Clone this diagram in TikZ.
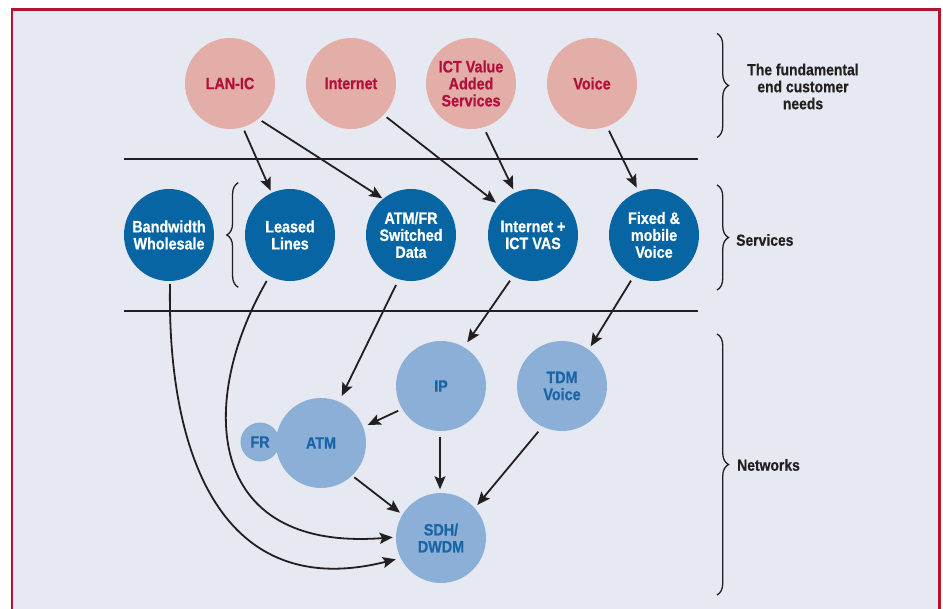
\documentclass[tikz,border=0pt]{standalone}
\usepackage{fontspec}
\setmainfont[FakeStretch=0.87, BoldFeatures={FakeBold=0.6}]{Liberation Sans}
\usetikzlibrary{shapes.geometric,arrows.meta,decorations.pathreplacing,calc}
\definecolor{bgcol}{HTML}{E6E9F1}
\definecolor{framered}{HTML}{B5142F}
\definecolor{pinkfill}{HTML}{E4AEA8}
\definecolor{pinktext}{HTML}{B30F3B}
\definecolor{darkblue}{HTML}{0765A3}
\definecolor{lightblue}{HTML}{8BAFD6}
\definecolor{nettext}{HTML}{1A64A8}
\definecolor{linecol}{HTML}{231F20}
\begin{document}
\begin{tikzpicture}[x=1pt,y=-1pt,
  lbl/.style={align=center, font=\bfseries\fontsize{16.5}{17}\selectfont, inner sep=0pt},
  need/.style={ellipse, fill=pinkfill, minimum width=90pt, minimum height=91pt, inner sep=0pt,
    label={[lbl, text=pinktext]center:{#1}}},
  svc/.style={ellipse, fill=darkblue, minimum width=90pt, minimum height=92pt, inner sep=0pt,
    label={[lbl, text=white]center:{#1}}},
  net/.style={circle, fill=lightblue, minimum size=90pt, inner sep=0pt,
    label={[lbl, text=nettext]center:{#1}}},
  side/.style={align=center, font=\bfseries\fontsize{16}{17}\selectfont, text=linecol, inner sep=0pt},
  arr/.style={draw=linecol, line width=1.8pt, -{Stealth[length=13pt,width=11pt,inset=2.5pt]}},
  sep/.style={draw=linecol, line width=2pt},
  brc/.style={draw=linecol, line width=1.3pt, decorate, decoration={brace, amplitude=11.5pt}}
]
\useasboundingbox (0,0) rectangle (943,609);
\clip (0,0) rectangle (943,609);
\fill[white] (0,0) rectangle (943,609);
\draw[framered, line width=2.5pt, fill=bgcol] (12,9.5) rectangle (939.5,650);

% separators
\draw[sep] (124,159.3) -- (698,159.3);
\draw[sep] (124,310.7) -- (698,310.7);

% fundamental needs
\node[need={LAN-IC}] (lan) at (230,83.5) {};
\node[need={Internet}] (inet) at (351,83.5) {};
\node[need={ICT Value\\Added\\Services}] (ict) at (471,83.5) {};
\node[need={Voice}] (voice) at (592,83.5) {};

% services
\node[svc={Bandwidth\\Wholesale}] (bw) at (169,235) {};
\node[svc={Leased\\Lines}] (leased) at (290,235) {};
\node[svc={ATM/FR\\Switched\\Data}] (atmfr) at (411,235) {};
\node[svc={Internet +\\ICT VAS}] (inetp) at (533,235) {};
\node[svc={Fixed \&\\mobile\\Voice}] (fixed) at (654,235) {};

% networks
\node[net={FR}, minimum size=39pt] (fr) at (260,442) {};
\node[net={ATM}] (atm) at (321,443) {};
\node[net={IP}] (ip) at (441,386) {};
\node[net={TDM\\Voice}] (tdm) at (562,386) {};
\node[net={SDH/\\DWDM}] (sdh) at (441,538) {};

% braces and side labels
\draw[brc] (717,33.5) -- (717,137.5);
\draw[brc] (717,185) -- (717,290);
\draw[brc] (717,334) -- (717,595);
\draw[brc] (238.3,287.3) -- (238.3,182.7);
\node[side] (lneeds) at (803,86.5) {The fundamental\\end customer\\needs};
\node[side, anchor=west] (lsvc) at (736,240) {Services};
\node[side, anchor=west] (lnet) at (737,465) {Networks};

% connectors
\draw[arr] ($(lan)+(14.3,47.2)$) -- ($(leased)+(-19.3,-44.3)$);
\draw[arr] ($(lan)+(31.7,37.5)$) -- ($(atmfr)+(-28.7,-36.7)$);
\draw[arr] ($(inet)+(35.7,33.8)$) -- ($(inetp)+(-37,-32.3)$);
\draw[arr] ($(ict)+(15,48.8)$) -- ($(inetp)+(-19.7,-45.7)$);
\draw[arr] ($(voice)+(17,47.2)$) -- ($(fixed)+(-17.3,-47.3)$);
\draw[arr] ($(atmfr)+(-15,50)$) -- ($(atm)+(20.7,-47)$);
\draw[arr] ($(inetp)+(-23,45.7)$) -- ($(ip)+(26.3,-43.7)$);
\draw[arr] ($(fixed)+(-23,45.7)$) -- ($(tdm)+(28.7,-39.7)$);
\draw[arr] ($(ip)+(-42.7,24.7)$) -- ($(atm)+(46.7,-18)$);
\draw[arr] ($(ip)+(-1,50.7)$) -- ($(sdh)+(-1,-48.7)$);
\draw[arr] ($(tdm)+(-23.7,45.7)$) -- ($(sdh)+(36.3,-33)$);
\draw[arr] ($(atm)+(33.3,34.3)$) -- ($(sdh)+(-41,-25.3)$);
\draw[arr] ($(leased)+(-23.3,46)$) .. controls (198,400) and (203,552) .. ($(sdh)+(-48.3,-0.7)$);
\draw[arr] ($(bw)+(1,49)$) .. controls (167,455) and (222,603) .. ($(sdh)+(-45.3,21.3)$);
\end{tikzpicture}
\end{document}
